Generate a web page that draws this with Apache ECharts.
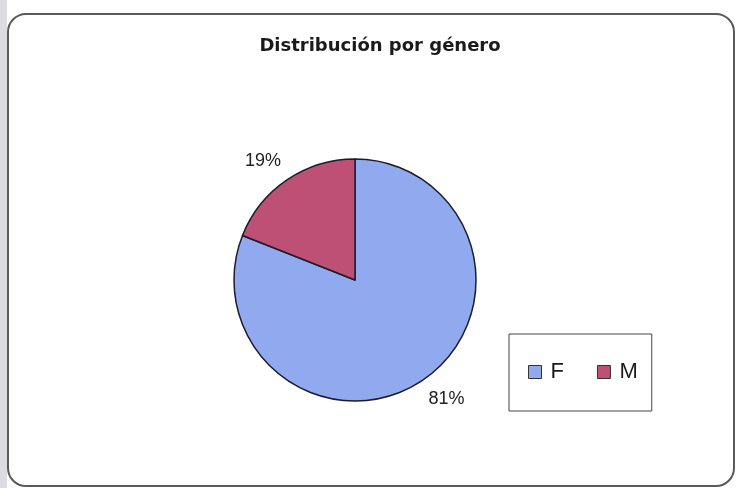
<!DOCTYPE html>
<html>
<head>
<meta charset="utf-8">
<script src="https://cdn.jsdelivr.net/npm/echarts@6/dist/echarts.min.js"></script>
<style>
  html, body { margin: 0; padding: 0; background: #ffffff; }
  #chart { width: 741px; height: 488px; }
</style>
</head>
<body>
<div id="chart"></div>
<script>
// Distribución por género
const titleText = 'Distribución por género';
const categories = ['F', 'M'];
const values = [81, 19];
const colors = ['#91a9ee', '#be4f75'];

const chart = echarts.init(document.getElementById('chart'), null, { renderer: 'canvas' });

const seriesData = categories.map((name, i) => ({
  name: name,
  value: values[i],
  itemStyle: { color: colors[i] },
  labelLine: i === 0 ? { length: 22, length2: 0 } : { length: 0, length2: 0 }
}));

// small nudges of the outside labels
const labelNudge = [{ dx: -12, dy: 1 }, { dx: -1, dy: -19 }];

chart.setOption({
  backgroundColor: '#ffffff',
  animation: false,
  graphic: [
    {
      type: 'rect',
      shape: { x: 0, y: 0, width: 7, height: 488 },
      style: { fill: '#dcdce0' },
      z: 0
    },
    {
      type: 'rect',
      shape: { x: 8, y: 14, width: 726, height: 472, r: 18 },
      style: { fill: '#ffffff', stroke: '#5a5a5a', lineWidth: 2 },
      z: 0
    }
  ],
  title: {
    text: titleText,
    left: 375,
    top: 32,
    textAlign: 'center',
    textStyle: {
      fontFamily: 'DejaVu Sans, sans-serif',
      fontSize: 18,
      fontWeight: 'bold',
      color: '#1a1a1a'
    }
  },
  legend: {
    data: categories,
    orient: 'horizontal',
    left: 509,
    top: 334,
    padding: [27, 14, 28, 19],
    itemGap: 33,
    itemWidth: 13,
    itemHeight: 13,
    icon: 'rect',
    borderColor: '#444',
    borderWidth: 1,
    itemStyle: { borderColor: '#333', borderWidth: 1 },
    textStyle: {
      fontFamily: 'Liberation Sans, Arial, sans-serif',
      fontSize: 22,
      lineHeight: 22,
      color: '#1a1a1a',
      padding: [0, 0, 0, 4]
    }
  },
  series: [{
    type: 'pie',
    center: [355, 280],
    radius: 121,
    startAngle: 90,
    clockwise: true,
    avoidLabelOverlap: false,
    itemStyle: { borderColor: '#1c1c2c', borderWidth: 1.5 },
    label: {
      show: true,
      position: 'outside',
      formatter: '{c}%',
      fontFamily: 'Liberation Sans, Arial, sans-serif',
      fontSize: 18,
      color: '#222'
    },
    labelLine: { show: false },
    labelLayout: function (p) {
      return labelNudge[p.dataIndex];
    },
    emphasis: { disabled: true },
    data: seriesData
  }]
});
</script>
</body>
</html>
